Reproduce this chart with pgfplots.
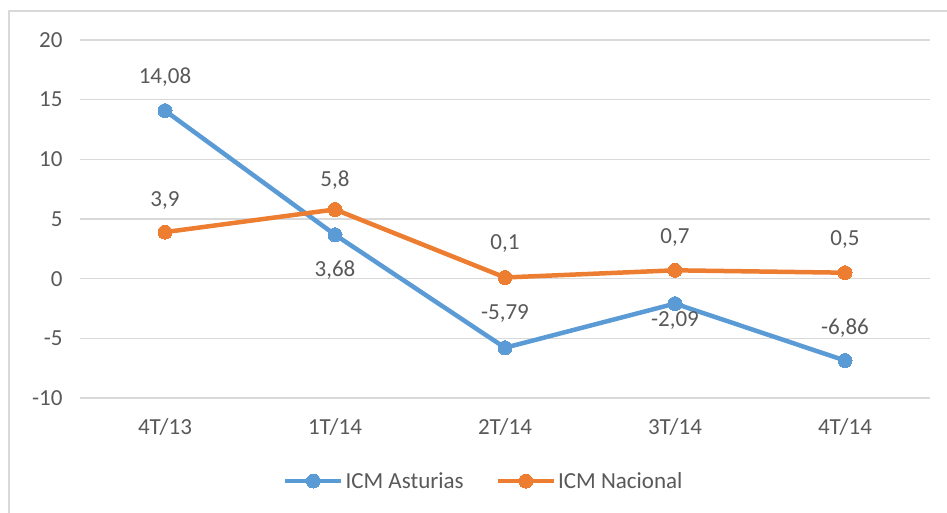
\documentclass[border=0pt]{standalone}
\usepackage{pgfplots}
\usepackage{pgfplotstable}
\pgfplotsset{compat=1.18}
\usepackage{fontspec}
\setmainfont{Carlito}
\definecolor{cblue}{HTML}{5B9BD5}
\definecolor{corange}{HTML}{ED7D31}
\definecolor{ctext}{HTML}{595959}
\definecolor{cgrid}{HTML}{D9D9D9}
\pgfplotstableread{
x y lab off
0 14.08 14,08 34
1 3.68 3,68 -35
2 -5.79 -5,79 34
3 -2.09 -2,09 -17
4 -6.86 -6,86 32
}\asturias
\pgfplotstableread{
x y lab off
0 3.9 3,9 32
1 5.8 5,8 29
2 0.1 0,1 34
3 0.7 0,7 33
4 0.5 0,5 33
}\nacional
\begin{document}
\begin{tikzpicture}[font=\fontsize{23}{27}\selectfont, text=ctext]
\useasboundingbox (0,0) rectangle (947pt,-513pt);
\draw[cgrid, line width=1.5pt] (9pt,-513pt) -- (9pt,-11pt) -- (947pt,-11pt);
\begin{axis}[
  at={(80pt,-398pt)}, anchor=south west,
  scale only axis, width=850pt, height=358pt,
  xmin=-0.5, xmax=4.5, ymin=-10, ymax=20,
  xtick={0,1,2,3,4},
  xticklabels={4T/13,1T/14,2T/14,3T/14,4T/14},
  ytick={-10,-5,0,5,10,15,20},
  ymajorgrids, grid style={cgrid, line width=1.5pt},
  axis line style={draw=none},
  major tick length=0pt,
  /pgf/number format/assume math mode=true,
  ticklabel style={text=ctext, font=\fontsize{23}{27}\selectfont},
  yticklabel style={xshift=-14pt},
  xticklabel style={yshift=-17pt},
  clip=false,
  legend style={draw=none, at={(0.475,-0.232)}, anchor=center,
    legend columns=2, font=\fontsize{23}{27}\selectfont, text=ctext,
    /tikz/every even column/.append style={column sep=30pt},
    inner sep=0pt},
  legend cell align=left,
  legend image code/.code={\draw[#1,mark repeat=2,mark phase=2] plot coordinates {(0pt,0pt)(28pt,0pt)(56pt,0pt)};},
  every axis plot/.append style={line width=4.5pt},
  point meta=explicit symbolic,
  visualization depends on={\thisrow{off} \as \myoff},
  nodes near coords,
  nodes near coords style={anchor=center, yshift=\myoff, text=ctext, font=\fontsize{23}{27}\selectfont},
]
\addplot[cblue, mark=*, mark size=7pt, mark options={solid, fill=cblue, draw=cblue, line width=0pt}] table[x=x, y=y, meta=lab] {\asturias};
\addlegendentry{ICM Asturias}
\addplot[corange, mark=*, mark size=7pt, mark options={solid, fill=corange, draw=corange, line width=0pt}] table[x=x, y=y, meta=lab] {\nacional};
\addlegendentry{ICM Nacional}
\end{axis}
\end{tikzpicture}
\end{document}
